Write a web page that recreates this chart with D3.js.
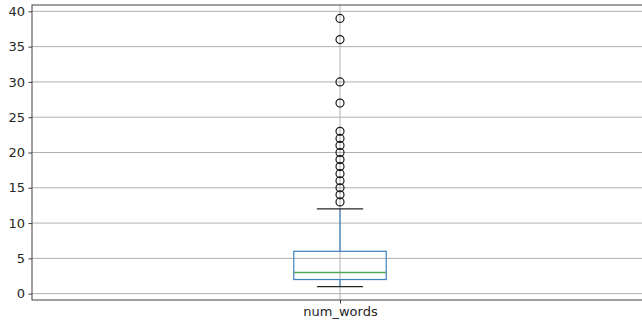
<!DOCTYPE html>
<html>
<head>
<meta charset="utf-8">
<script src="https://cdn.jsdelivr.net/npm/d3@7"></script>
<style>
  body { margin: 0; background: #fff; }
  text { font-family: "DejaVu Sans", sans-serif; }
</style>
</head>
<body>
<script>
// Define SVG area dimensions
var svgWidth = 642;
var svgHeight = 324;

// Axes box (right edge runs past the window, like the reference crop)
var margin = { top: 5, left: 32 };
var chartWidth = 616;
var chartHeight = 295;

// box summary for num_words
var categories = ["num_words"];
var boxStats = { whiskerLow: 1, q1: 2, median: 3, q3: 6, whiskerHigh: 12 };
var outliers = [13, 14, 15, 16, 17, 18, 19, 20, 21, 22, 23, 27, 30, 36, 39];
var yTicks = [0, 5, 10, 15, 20, 25, 30, 35, 40];

var svg = d3.select("body")
  .append("svg")
  .attr("width", svgWidth)
  .attr("height", svgHeight);

var chartGroup = svg.append("g")
  .attr("transform", `translate(${margin.left}, ${margin.top})`);

// x: position 1 in [0.5, 1.5]
var xScale = d3.scaleLinear().domain([0.5, 1.5]).range([0, chartWidth]);
var yScale = d3.scaleLinear().domain([-0.9, 40.9]).range([chartHeight, 0]);

// grid lines
chartGroup.selectAll(".hgrid")
  .data(yTicks)
  .enter()
  .append("line")
  .attr("x1", 0)
  .attr("x2", chartWidth)
  .attr("y1", d => yScale(d))
  .attr("y2", d => yScale(d))
  .attr("stroke", "#b0b0b0")
  .attr("stroke-width", 1);

chartGroup.append("line")
  .attr("x1", xScale(1))
  .attr("x2", xScale(1))
  .attr("y1", 0)
  .attr("y2", chartHeight)
  .attr("stroke", "#b0b0b0")
  .attr("stroke-width", 1);

// axes
var yAxis = d3.axisLeft(yScale).tickValues(yTicks).tickSize(3.5).tickPadding(3.5);
var xAxis = d3.axisBottom(xScale).tickValues([1]).tickFormat(() => categories[0]).tickSize(3.5).tickPadding(3.5);

var yG = chartGroup.append("g").call(yAxis);
var xG = chartGroup.append("g").attr("transform", `translate(0, ${chartHeight})`).call(xAxis);

[yG, xG].forEach(function(g) {
  g.select(".domain").remove();
  g.selectAll("text").attr("font-size", 13).attr("fill", "#262626").style("font-family", "DejaVu Sans, sans-serif");
  g.selectAll("line").attr("stroke", "#262626").attr("stroke-width", 0.9);
});

// frame
chartGroup.append("rect")
  .attr("x", 0)
  .attr("y", 0)
  .attr("width", chartWidth)
  .attr("height", chartHeight)
  .attr("fill", "none")
  .attr("stroke", "#404040")
  .attr("stroke-width", 1);

// box plot
var cx = xScale(1);
var boxHalf = (xScale(1.075) - xScale(0.925)) / 2;
var capHalf = boxHalf / 2;
var blue = "#3f7fbf";

// whiskers
chartGroup.append("line")
  .attr("x1", cx).attr("x2", cx)
  .attr("y1", yScale(boxStats.q3)).attr("y2", yScale(boxStats.whiskerHigh))
  .attr("stroke", blue).attr("stroke-width", 1.2);
chartGroup.append("line")
  .attr("x1", cx).attr("x2", cx)
  .attr("y1", yScale(boxStats.q1)).attr("y2", yScale(boxStats.whiskerLow))
  .attr("stroke", blue).attr("stroke-width", 1.2);

// caps
[boxStats.whiskerLow, boxStats.whiskerHigh].forEach(function(v) {
  chartGroup.append("line")
    .attr("x1", cx - capHalf).attr("x2", cx + capHalf)
    .attr("y1", yScale(v)).attr("y2", yScale(v))
    .attr("stroke", "#262626").attr("stroke-width", 1.2);
});

// box
chartGroup.append("rect")
  .attr("x", cx - boxHalf)
  .attr("y", yScale(boxStats.q3))
  .attr("width", boxHalf * 2)
  .attr("height", yScale(boxStats.q1) - yScale(boxStats.q3))
  .attr("fill", "none")
  .attr("stroke", blue)
  .attr("stroke-width", 1.2);

// median
chartGroup.append("line")
  .attr("x1", cx - boxHalf).attr("x2", cx + boxHalf)
  .attr("y1", yScale(boxStats.median)).attr("y2", yScale(boxStats.median))
  .attr("stroke", "#55a855").attr("stroke-width", 1.5);

// fliers
chartGroup.selectAll(".flier")
  .data(outliers)
  .enter()
  .append("circle")
  .attr("cx", cx)
  .attr("cy", d => yScale(d))
  .attr("r", 4)
  .attr("fill", "none")
  .attr("stroke", "#1a1a1a")
  .attr("stroke-width", 1.2);
</script>
</body>
</html>
